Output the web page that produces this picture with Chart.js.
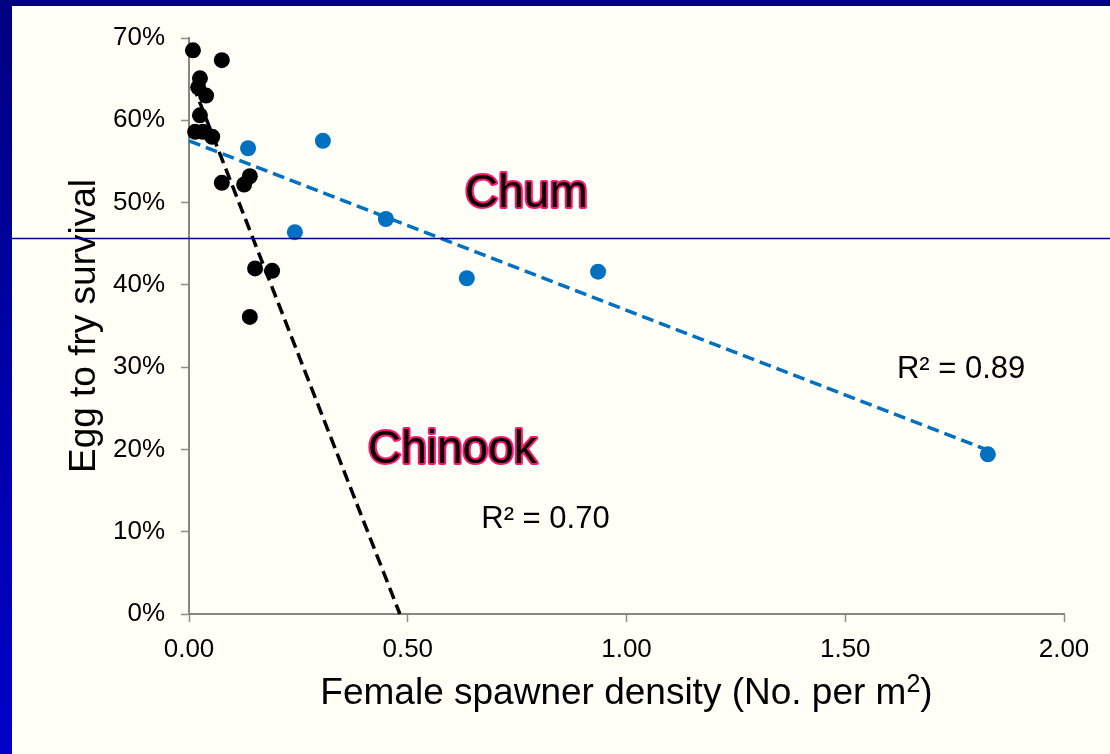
<!DOCTYPE html>
<html>
<head>
<meta charset="utf-8">
<title>Egg to fry survival</title>
<script src="https://cdn.jsdelivr.net/npm/chart.js@4.4.1/dist/chart.umd.min.js"></script>
<style>
  html, body { margin: 0; padding: 0; }
  body {
    position: relative;
    width: 1110px;
    height: 754px;
    overflow: hidden;
    background: linear-gradient(to bottom, #000080 0%, #0000a8 50%, #0000c8 100%);
  }
  #slide {
    position: absolute;
    left: 12px;
    top: 6px;
    width: 1098px;
    height: 748px;
    background: #fffff7;
  }
  canvas { display: block; }
</style>
</head>
<body>
<div id="slide"><canvas id="survival" width="1098" height="748"></canvas></div>
<script>
// Chinook and chum: egg-to-fry survival (%) against female spawner density
const chinookDensity = [0.009, 0.075, 0.025, 0.021, 0.039, 0.025, 0.014, 0.032, 0.053, 0.075, 0.126, 0.139, 0.151, 0.190, 0.139];
const chinookSurvival = [68.5, 67.3, 65.1, 64.0, 63.0, 60.6, 58.6, 58.6, 58.0, 52.4, 52.2, 53.2, 42.0, 41.7, 36.1];

const chumDensity = [0.135, 0.306, 0.450, 0.242, 0.635, 0.935, 1.826];
const chumSurvival = [56.6, 57.5, 48.0, 46.4, 40.8, 41.6, 19.4];

// linear trendlines, start and end
const chinookTrendX = [0.009, 0.482];
const chinookTrendY = [64.3, 0];
const chumTrendX = [0, 1.826];
const chumTrendY = [57.5, 19.9];

const chinookR2 = 0.70;
const chumR2 = 0.89;

const xTicks = [0, 0.5, 1.0, 1.5, 2.0];
const yTicks = [0, 10, 20, 30, 40, 50, 60, 70];

const FONT = "'Liberation Sans', Arial, sans-serif";
const BLUE = '#0070c0';

const toPoints = (xs, ys) => xs.map((x, i) => ({ x: x, y: ys[i] }));

// text placed in data units (left edge, baseline)
const speciesLabels = [
  { text: 'Chum', x: 0.631, y: 49.45 },
  { text: 'Chinook', x: 0.409, y: 18.35 }
];
const r2Labels = [
  { text: 'R\u00b2 = ' + chumR2.toFixed(2), x: 1.618, y: 28.7 },
  { text: 'R\u00b2 = ' + chinookR2.toFixed(2), x: 0.668, y: 10.45 }
];

const annotations = {
  id: 'annotations',
  afterDraw(chart) {
    const ctx = chart.ctx;
    const xs = chart.scales.x;
    const ys = chart.scales.y;
    const area = chart.chartArea;
    ctx.save();

    // species names: black with a pink rim
    ctx.font = '46px ' + FONT;
    ctx.textAlign = 'left';
    ctx.textBaseline = 'alphabetic';
    ctx.lineJoin = 'round';
    speciesLabels.forEach(l => {
      const px = xs.getPixelForValue(l.x);
      const py = ys.getPixelForValue(l.y);
      ctx.strokeStyle = '#ff1470';
      ctx.lineWidth = 4;
      ctx.strokeText(l.text, px, py);
      ctx.fillStyle = '#000';
      ctx.fillText(l.text, px, py);
    });

    ctx.font = '31px ' + FONT;
    ctx.fillStyle = '#000';
    r2Labels.forEach(l => {
      ctx.fillText(l.text, xs.getPixelForValue(l.x), ys.getPixelForValue(l.y));
    });

    // x axis title with a raised "2"
    const main = 'Female spawner density (No. per m';
    ctx.font = '37px ' + FONT;
    const wMain = ctx.measureText(main).width;
    const wClose = ctx.measureText(')').width;
    ctx.font = '25px ' + FONT;
    const wSup = ctx.measureText('2').width;
    const total = wMain + wSup + wClose;
    let tx = (area.left + area.right) / 2 - total / 2;
    const ty = area.bottom + 90;
    ctx.font = '37px ' + FONT;
    ctx.fillText(main, tx, ty);
    tx += wMain;
    ctx.font = '25px ' + FONT;
    ctx.fillText('2', tx, ty - 12);
    tx += wSup;
    ctx.font = '37px ' + FONT;
    ctx.fillText(')', tx, ty);

    // thin rule across the slide
    ctx.strokeStyle = '#000099';
    ctx.lineWidth = 1.5;
    ctx.beginPath();
    ctx.moveTo(0, 232.5);
    ctx.lineTo(chart.width, 232.5);
    ctx.stroke();

    ctx.restore();
  }
};

const ctx = document.getElementById('survival').getContext('2d');
new Chart(ctx, {
  type: 'scatter',
  data: {
    datasets: [
      {
        type: 'line',
        label: 'Chum trend',
        data: toPoints(chumTrendX, chumTrendY),
        borderColor: BLUE,
        borderWidth: 3.5,
        borderDash: [12, 6],
        pointRadius: 0,
        fill: false,
        clip: false
      },
      {
        type: 'line',
        label: 'Chinook trend',
        data: toPoints(chinookTrendX, chinookTrendY),
        borderColor: '#000',
        borderWidth: 3.5,
        borderDash: [12, 6],
        pointRadius: 0,
        fill: false,
        clip: false
      },
      {
        label: 'Chum',
        data: toPoints(chumDensity, chumSurvival),
        backgroundColor: BLUE,
        borderColor: BLUE,
        borderWidth: 0,
        pointRadius: 8,
        clip: false
      },
      {
        label: 'Chinook',
        data: toPoints(chinookDensity, chinookSurvival),
        backgroundColor: '#000',
        borderColor: '#000',
        borderWidth: 0,
        pointRadius: 8,
        clip: false
      }
    ]
  },
  options: {
    responsive: false,
    animation: false,
    events: [],
    layout: { padding: { left: 0, top: 32, right: 46, bottom: 0 } },
    plugins: {
      legend: { display: false },
      tooltip: { enabled: false }
    },
    scales: {
      x: {
        type: 'linear',
        min: 0,
        max: 2,
        afterBuildTicks: s => { s.ticks = xTicks.map(v => ({ value: v })); },
        afterFit: s => { s.height = 140; },
        border: { color: '#868686', width: 2 },
        grid: { drawOnChartArea: false, tickLength: 8, tickColor: '#8c8c8c', tickWidth: 1.5 },
        ticks: {
          color: '#000',
          padding: 12,
          font: { family: FONT, size: 26 },
          callback: v => v.toFixed(2)
        }
      },
      y: {
        type: 'linear',
        min: 0,
        max: 70,
        afterBuildTicks: s => { s.ticks = yTicks.map(v => ({ value: v })); },
        afterFit: s => { s.width = 177; },
        border: { color: '#868686', width: 2 },
        grid: { drawOnChartArea: false, tickLength: 8, tickColor: '#8c8c8c', tickWidth: 1.5 },
        ticks: {
          color: '#000',
          padding: 16,
          font: { family: FONT, size: 26 },
          callback: v => v + '%'
        },
        title: {
          display: true,
          text: 'Egg to fry survival',
          color: '#000',
          font: { family: FONT, size: 37 },
          padding: { top: 51, bottom: 0 }
        }
      }
    }
  },
  plugins: [annotations]
});
</script>
</body>
</html>
